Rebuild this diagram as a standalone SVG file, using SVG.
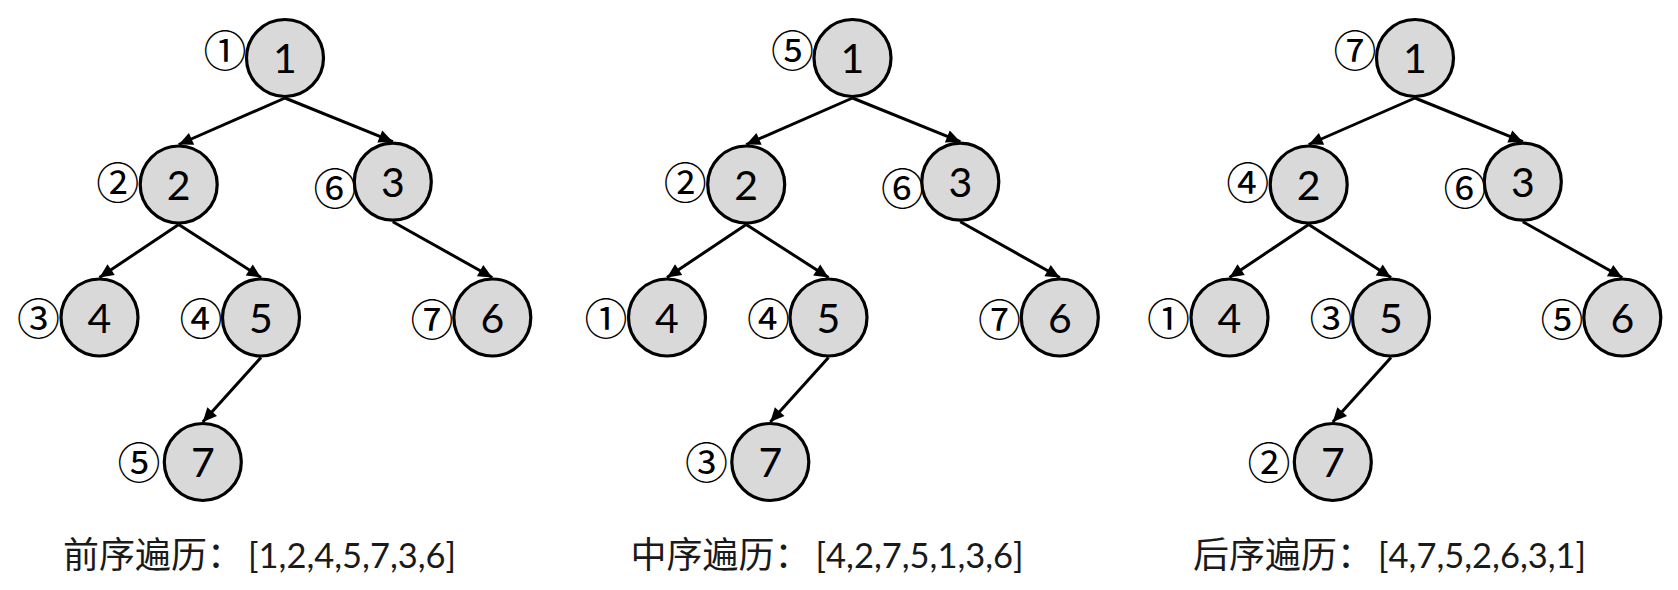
<svg xmlns="http://www.w3.org/2000/svg" width="1678" height="590" viewBox="0 0 1678 590">
  <style>
    .node circle { fill: #d9d9d9; stroke: #000; stroke-width: 3.2; }
    .node .num { font-family: Lato, "Liberation Sans", sans-serif; font-size: 41px; fill: #000; text-anchor: middle; }
    .node .ord { font-family: "Noto Sans CJK SC", "DejaVu Sans", sans-serif; font-size: 43px; fill: #000; text-anchor: middle; }
    .edge { stroke: #000; stroke-width: 3; fill: none; marker-end: url(#arrow); }
    .caption { font-family: "Noto Sans CJK SC", sans-serif; font-size: 36px; fill: #1a1a1a; }
    .caption .seq { font-family: Lato, "Liberation Sans", sans-serif; font-size: 34.5px; }
  </style>
  <defs>
    <marker id="arrow" markerUnits="userSpaceOnUse" markerWidth="16" markerHeight="14" refX="14" refY="6.5" orient="auto" overflow="visible">
      <path d="M0,0 L14,6.5 L0,13 z" fill="#000"/>
    </marker>
  </defs>
  <rect width="1678" height="590" fill="#fff"/>

  <g id="connectors">
    <g id="edges-tree1">
      <path class="edge" d="M285,98 L178.7,144.5"/>
      <path class="edge" d="M285,98 L392.8,141.7"/>
      <path class="edge" d="M178.7,224.5 L99.5,277.5"/>
      <path class="edge" d="M178.7,224.5 L261,277.5"/>
      <path class="edge" d="M392.8,221.7 L492.3,277.5"/>
      <path class="edge" d="M261,357.5 L202.8,422"/>
    </g>
    <g id="edges-tree2" transform="translate(567.5,0)">
      <path class="edge" d="M285,98 L178.7,144.5"/>
      <path class="edge" d="M285,98 L392.8,141.7"/>
      <path class="edge" d="M178.7,224.5 L99.5,277.5"/>
      <path class="edge" d="M178.7,224.5 L261,277.5"/>
      <path class="edge" d="M392.8,221.7 L492.3,277.5"/>
      <path class="edge" d="M261,357.5 L202.8,422"/>
    </g>
    <g id="edges-tree3" transform="translate(1130,0)">
      <path class="edge" d="M285,98 L178.7,144.5"/>
      <path class="edge" d="M285,98 L392.8,141.7"/>
      <path class="edge" d="M178.7,224.5 L99.5,277.5"/>
      <path class="edge" d="M178.7,224.5 L261,277.5"/>
      <path class="edge" d="M392.8,221.7 L492.3,277.5"/>
      <path class="edge" d="M261,357.5 L202.8,422"/>
    </g>
  </g>

  <!-- Tree 1: preorder -->
  <g id="tree1">
    <g id="t1-n1" class="node"><circle cx="285" cy="58" r="38.5"/><text class="num" x="285" y="73">1</text><text class="ord" x="225" y="67">①</text></g>
    <g id="t1-n2" class="node"><circle cx="178.7" cy="184.5" r="38.5"/><text class="num" x="178.7" y="199.5">2</text><text class="ord" x="117.7" y="199">②</text></g>
    <g id="t1-n3" class="node"><circle cx="392.8" cy="181.7" r="38.5"/><text class="num" x="392.8" y="196.7">3</text><text class="ord" x="335" y="204.5">⑥</text></g>
    <g id="t1-n4" class="node"><circle cx="99.5" cy="317.5" r="38.5"/><text class="num" x="99.5" y="332.5">4</text><text class="ord" x="38.5" y="334.5">③</text></g>
    <g id="t1-n5" class="node"><circle cx="261" cy="317.5" r="38.5"/><text class="num" x="261" y="332.5">5</text><text class="ord" x="201" y="334.5">④</text></g>
    <g id="t1-n6" class="node"><circle cx="492.3" cy="317.5" r="38.5"/><text class="num" x="492.3" y="332.5">6</text><text class="ord" x="432" y="335.5">⑦</text></g>
    <g id="t1-n7" class="node"><circle cx="202.8" cy="462" r="38.5"/><text class="num" x="202.8" y="477">7</text><text class="ord" x="139" y="479">⑤</text></g>
    <text id="t1-caption" class="caption" x="63" y="568">前序遍历：<tspan class="seq" x="248">[1,2,4,5,7,3,6]</tspan></text>
  </g>

  <!-- Tree 2: inorder -->
  <g id="tree2" transform="translate(567.5,0)">
    <g id="t2-n1" class="node"><circle cx="285" cy="58" r="38.5"/><text class="num" x="285" y="73">1</text><text class="ord" x="225" y="67">⑤</text></g>
    <g id="t2-n2" class="node"><circle cx="178.7" cy="184.5" r="38.5"/><text class="num" x="178.7" y="199.5">2</text><text class="ord" x="117.7" y="199">②</text></g>
    <g id="t2-n3" class="node"><circle cx="392.8" cy="181.7" r="38.5"/><text class="num" x="392.8" y="196.7">3</text><text class="ord" x="335" y="204.5">⑥</text></g>
    <g id="t2-n4" class="node"><circle cx="99.5" cy="317.5" r="38.5"/><text class="num" x="99.5" y="332.5">4</text><text class="ord" x="38.5" y="334.5">①</text></g>
    <g id="t2-n5" class="node"><circle cx="261" cy="317.5" r="38.5"/><text class="num" x="261" y="332.5">5</text><text class="ord" x="201" y="334.5">④</text></g>
    <g id="t2-n6" class="node"><circle cx="492.3" cy="317.5" r="38.5"/><text class="num" x="492.3" y="332.5">6</text><text class="ord" x="432" y="335.5">⑦</text></g>
    <g id="t2-n7" class="node"><circle cx="202.8" cy="462" r="38.5"/><text class="num" x="202.8" y="477">7</text><text class="ord" x="139" y="479">③</text></g>
    <text id="t2-caption" class="caption" x="63" y="568">中序遍历：<tspan class="seq" x="248">[4,2,7,5,1,3,6]</tspan></text>
  </g>

  <!-- Tree 3: postorder -->
  <g id="tree3" transform="translate(1130,0)">
    <g id="t3-n1" class="node"><circle cx="285" cy="58" r="38.5"/><text class="num" x="285" y="73">1</text><text class="ord" x="225" y="67">⑦</text></g>
    <g id="t3-n2" class="node"><circle cx="178.7" cy="184.5" r="38.5"/><text class="num" x="178.7" y="199.5">2</text><text class="ord" x="117.7" y="199">④</text></g>
    <g id="t3-n3" class="node"><circle cx="392.8" cy="181.7" r="38.5"/><text class="num" x="392.8" y="196.7">3</text><text class="ord" x="335" y="204.5">⑥</text></g>
    <g id="t3-n4" class="node"><circle cx="99.5" cy="317.5" r="38.5"/><text class="num" x="99.5" y="332.5">4</text><text class="ord" x="38.5" y="334.5">①</text></g>
    <g id="t3-n5" class="node"><circle cx="261" cy="317.5" r="38.5"/><text class="num" x="261" y="332.5">5</text><text class="ord" x="201" y="334.5">③</text></g>
    <g id="t3-n6" class="node"><circle cx="492.3" cy="317.5" r="38.5"/><text class="num" x="492.3" y="332.5">6</text><text class="ord" x="432" y="335.5">⑤</text></g>
    <g id="t3-n7" class="node"><circle cx="202.8" cy="462" r="38.5"/><text class="num" x="202.8" y="477">7</text><text class="ord" x="139" y="479">②</text></g>
    <text id="t3-caption" class="caption" x="63" y="568">后序遍历：<tspan class="seq" x="248">[4,7,5,2,6,3,1]</tspan></text>
  </g>
</svg>
